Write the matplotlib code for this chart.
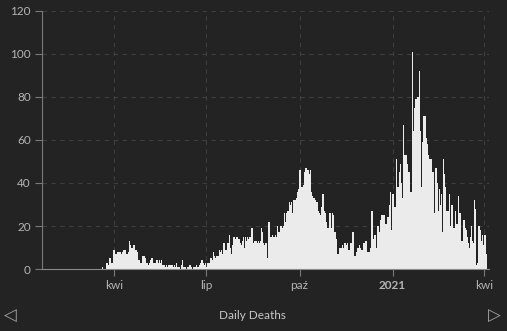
import pandas as pd
import matplotlib
matplotlib.use("Agg")
import matplotlib.pyplot as plt
import matplotlib.dates as mdates

# daily deaths, one list per month (first day of data: 2020-01-22)
zeros_before = [0] * 39  # 22 Jan - 29 Feb 2020
mar_2020 = [0] * 19 + [1, 0, 0, 0, 3, 3, 2, 5, 5, 3, 3, 9]
apr_2020 = [9, 7, 7, 8, 8, 8, 8, 7, 8, 9, 9, 9, 7, 7, 8, 13, 11, 10, 10, 11,
            11, 9, 9, 8, 4, 4, 3, 3, 6, 6]
may_2020 = [6, 5, 3, 3, 2, 3, 4, 5, 5, 3, 3, 3, 4, 4, 3, 4, 3, 4, 2, 2,
            2, 1, 2, 1, 2, 2, 2, 2, 1, 2, 1]
jun_2020 = [3, 1, 1, 1, 0, 2, 4, 1, 1, 1, 0, 1, 1, 2, 2, 1, 0, 1, 1, 1,
            2, 1, 1, 2, 3, 4, 4, 3, 2, 3]
jul_2020 = [1, 3, 3, 3, 5, 5, 4, 8, 6, 5, 6, 6, 6, 9, 8, 9, 7, 12, 12, 9,
            9, 12, 12, 16, 10, 7, 11, 15, 15, 14, 15]
aug_2020 = [15, 14, 14, 12, 11, 13, 15, 10, 15, 13, 15, 14, 15, 15, 19, 19, 12, 13, 13, 12,
            13, 12, 13, 19, 17, 12, 11, 12, 12, 5, 22]
sep_2020 = [22, 15, 15, 16, 15, 15, 16, 15, 20, 17, 17, 20, 20, 19, 20, 26, 22, 26, 27, 27,
            31, 30, 31, 26, 32, 32, 32, 33, 36, 37]
oct_2020 = [46, 46, 38, 38, 39, 45, 47, 47, 46, 46, 44, 46, 36, 34, 33, 33, 32, 31, 31, 27,
            26, 25, 29, 35, 35, 27, 26, 22, 19, 19, 26]
nov_2020 = [26, 19, 26, 25, 17, 17, 14, 7, 7, 10, 10, 11, 10, 12, 12, 11, 12, 9, 9, 12,
            12, 17, 17, 6, 6, 8, 10, 10, 11, 10]
dec_2020 = [9, 9, 12, 12, 13, 13, 8, 8, 8, 10, 27, 27, 14, 16, 16, 10, 20, 20, 17, 23,
            25, 25, 25, 25, 21, 21, 24, 24, 30, 36, 18]
jan_2021 = [35, 35, 29, 29, 51, 38, 38, 45, 49, 40, 33, 67, 53, 53, 53, 49, 45, 45, 36, 36,
            101, 64, 75, 79, 79, 80, 80, 92, 64, 38, 59]
feb_2021 = [71, 71, 61, 58, 53, 51, 51, 51, 45, 45, 26, 47, 47, 40, 27, 37, 30, 35, 17, 51,
            44, 38, 27, 27, 27, 35, 20, 30]
mar_2021 = [30, 19, 19, 27, 21, 21, 34, 26, 26, 13, 13, 23, 23, 19, 18, 15, 12, 10, 15, 20,
            13, 12, 32, 28, 2, 3, 20, 20, 18, 13, 16]
apr_2021 = [11, 16, 16, 7]

deaths = (zeros_before + mar_2020 + apr_2020 + may_2020 + jun_2020 + jul_2020 + aug_2020
          + sep_2020 + oct_2020 + nov_2020 + dec_2020 + jan_2021 + feb_2021 + mar_2021 + apr_2021)
dates = pd.date_range("2020-01-22", periods=len(deaths), freq="D")

tick_dates = ["2020-04-01", "2020-07-01", "2020-10-01", "2021-01-01", "2021-04-01"]
tick_labels = ["kwi", "lip", "paź", "2021", "kwi"]
y_ticks = [0, 20, 40, 60, 80, 100, 120]

BG = "#232323"
BAR = "#ebebeb"
TXT = "#b4b4b4"
GRID = "#3e3e3e"

plt.rcParams["font.family"] = ["Lato", "DejaVu Sans"]

fig = plt.figure(figsize=(5.07, 3.31), dpi=100, facecolor=BG)
ax = fig.add_axes([0.0838, 0.1873, 0.8807, 0.7795], facecolor=BG)

ax.bar(dates, deaths, width=1.0, color=BAR, linewidth=0, align="center")

ax.set_xlim(pd.Timestamp("2020-01-21"), pd.Timestamp("2021-04-06 06:00"))
ax.set_ylim(0, 120)

ax.set_yticks(y_ticks)
ax.set_xticks([mdates.date2num(pd.Timestamp(d)) for d in tick_dates])
ax.set_xticklabels(tick_labels)
ax.get_xticklabels()[3].set_fontweight("bold")

ax.grid(True, color=GRID, linestyle=(0, (4, 4)), linewidth=0.8)
ax.set_axisbelow(True)

for side in ["top", "right"]:
    ax.spines[side].set_visible(False)
ax.spines["left"].set_color("#7a7a7a")
ax.spines["bottom"].set_color("#8a8a8a")
ax.tick_params(axis="both", colors="#7a7a7a", labelcolor=TXT, labelsize=8.5, length=5)
ax.tick_params(axis="x", pad=3)

fig.text(0.497, 0.048, "Daily Deaths", color="#c8c8c8", fontsize=8.5, ha="center", va="center")
fig.text(0.020, 0.046, "◁", color="#a0a0a0", fontsize=12, ha="center", va="center", family="DejaVu Sans")
fig.text(0.974, 0.046, "▷", color="#a0a0a0", fontsize=12, ha="center", va="center", family="DejaVu Sans")

fig.savefig("out.png", dpi=100, facecolor=BG)
